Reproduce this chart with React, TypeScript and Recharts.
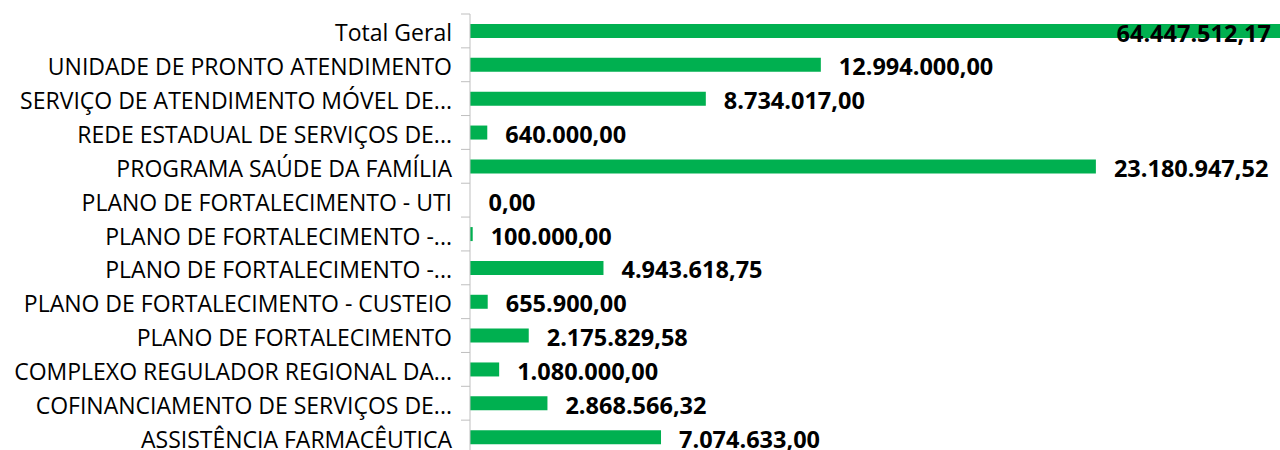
import React from 'react';
import { BarChart, Bar, XAxis, YAxis, LabelList, Cell } from 'recharts';

const categories = [
  'Total Geral',
  'UNIDADE DE PRONTO ATENDIMENTO',
  'SERVIÇO DE ATENDIMENTO MÓVEL DE...',
  'REDE ESTADUAL DE SERVIÇOS DE...',
  'PROGRAMA SAÚDE DA FAMÍLIA',
  'PLANO DE FORTALECIMENTO - UTI',
  'PLANO DE FORTALECIMENTO -...',
  'PLANO DE FORTALECIMENTO -...',
  'PLANO DE FORTALECIMENTO - CUSTEIO',
  'PLANO DE FORTALECIMENTO',
  'COMPLEXO REGULADOR REGIONAL DA...',
  'COFINANCIAMENTO DE SERVIÇOS DE...',
  'ASSISTÊNCIA FARMACÊUTICA',
];

const values = [
  64447512.17, 12994000.0, 8734017.0, 640000.0, 23180947.52, 0.0, 100000.0,
  4943618.75, 655900.0, 2175829.58, 1080000.0, 2868566.32, 7074633.0,
];

const xDomain = [0, 30000000];

const data = categories.map((name, i) => ({ idx: i, name, value: values[i] }));

const W = 1280;
const H = 454;
const TOP = 14;
const AXIS_W = 470;
const BAND = (H - TOP) / categories.length;
const FONT = '"Open Sans", sans-serif';
const GREEN = '#00B050';

// 1234567.8 -> 1.234.567,80
const fmt = (v: number) => {
  const [int, dec] = v.toFixed(2).split('.');
  return int.replace(/\B(?=(\d{3})+(?!\d))/g, '.') + ',' + dec;
};

const CategoryTick = (props: any) => {
  const { x, y, payload } = props;
  return (
    <g>
      <line x1={x + 9} x2={x + 18} y1={y - BAND / 2} y2={y - BAND / 2} stroke="#BFBFBF" />
      <text
        x={x}
        y={y + 1.5}
        textAnchor="end"
        dominantBaseline="central"
        fontFamily={FONT}
        fontSize={23}
        fill="#000"
      >
        {categories[payload.value]}
      </text>
    </g>
  );
};

const ValueLabel = (props: any) => {
  const { x, y, width, height, value } = props;
  const end = x + width;
  const clipped = end > W;
  return (
    <text
      x={clipped ? W - 9 : end + 18}
      y={y + height / 2 + 1.5}
      textAnchor={clipped ? 'end' : 'start'}
      dominantBaseline="central"
      fontFamily={FONT}
      fontWeight="bold"
      fontSize={23.5}
      fill="#000"
    >
      {fmt(value)}
    </text>
  );
};

export default function App() {
  return (
    <div style={{ position: 'absolute', left: 0, top: 0, width: W, height: 450, overflow: 'hidden', background: '#fff' }}>
      <BarChart
        width={W}
        height={H}
        data={data}
        layout="vertical"
        margin={{ top: TOP, right: 0, bottom: 0, left: 0 }}
      >
        <XAxis type="number" hide domain={xDomain} allowDataOverflow />
        <YAxis
          type="category"
          dataKey="idx"
          width={AXIS_W}
          axisLine={{ stroke: '#BFBFBF' }}
          tickLine={false}
          tickSize={9}
          tickMargin={9}
          interval={0}
          tick={<CategoryTick />}
        />
        <Bar dataKey="value" fill={GREEN} barSize={14} minPointSize={0.5} isAnimationActive={false}>
          {data.map((d) => (
            <Cell key={d.idx} fill={d.value === 0 ? 'none' : GREEN} />
          ))}
          <LabelList dataKey="value" content={<ValueLabel />} />
        </Bar>
      </BarChart>
    </div>
  );
}
